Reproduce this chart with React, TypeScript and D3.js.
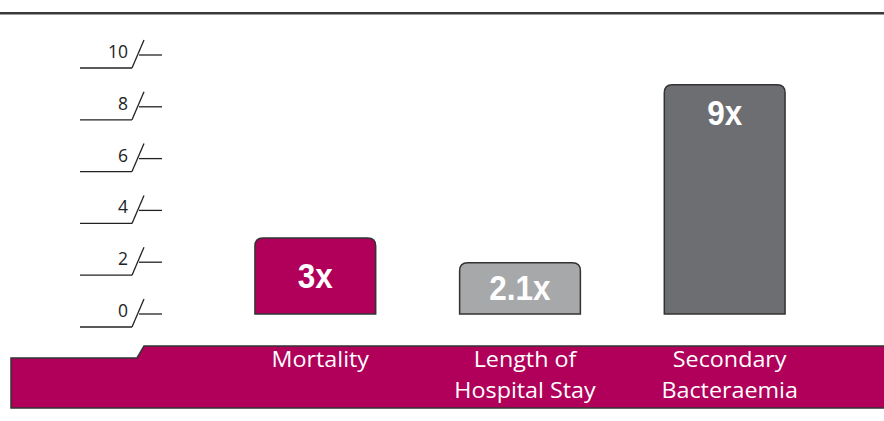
import React from "react";
import * as d3 from "d3";

const categories: string[][] = [["Mortality"], ["Length of", "Hospital Stay"], ["Secondary", "Bacteraemia"]];
const values: number[] = [2.93, 1.98, 8.85];
const valueLabels: string[] = ["3x", "2.1x", "9x"];
const barColors: string[] = ["#B0005A", "#A7A8AA", "#6D6E71"];
const tickValues: number[] = [0, 2, 4, 6, 8, 10];

const W = 884;
const H = 421;

function roundTopRect(x: number, y: number, w: number, h: number, r: number) {
  return `M${x},${y + h} L${x},${y + r} Q${x},${y} ${x + r},${y} L${x + w - r},${y} Q${x + w},${y} ${x + w},${y + r} L${x + w},${y + h} Z`;
}

export default function App() {
  const y = d3.scaleLinear().domain([0, 10]).range([314, 55]);
  const x = d3.scaleBand<number>().domain([0, 1, 2]).range([214, 826]).paddingInner(0.41).paddingOuter(0.2);
  const bw = x.bandwidth();
  const bandPts: [number, number][] = [
    [11, 358], [137, 358], [144, 346], [892, 346], [892, 408], [11, 408],
  ];
  const line = d3.line();
  return (
    <svg width={W} height={H} style={{ position: "absolute", left: 0, top: 0, background: "#fff" }}>
      <line x1={0} x2={W} y1={13} y2={13} stroke="#3a3a3a" strokeWidth={2} />
      <line x1={0} x2={W} y1={14.5} y2={14.5} stroke="#9a9a9a" strokeWidth={1} />
      {tickValues.map((t) => {
        const ty = y(t);
        return (
          <g key={t} stroke="#222" strokeWidth={1.3} fill="none">
            <line x1={80} x2={132} y1={ty + 13} y2={ty + 13} />
            <line x1={132} x2={144} y1={ty + 13} y2={ty - 15} />
            <line x1={139} x2={162} y1={ty} y2={ty} />
            <text x={128} y={ty + 3} textAnchor="end" stroke="none" fill="#222"
              style={{ fontFamily: "'Open Sans', sans-serif", fontSize: 17.5 }}>{t}</text>
          </g>
        );
      })}
      {values.map((v, i) => {
        const bx = x(i)!;
        const top = y(v);
        const h = y(0) - top;
        const ly = h < 100 ? top + h / 2 + 12 : top + 40;
        const cx = bx + bw / 2;
        return (
          <g key={i}>
            <path d={roundTopRect(bx, top, bw, h, 8)} fill={barColors[i]} stroke="#333" strokeWidth={1.5} />
            <text x={cx} y={ly} textAnchor="middle" fill="#fff"
              transform={`translate(${cx},0) scale(0.9,1) translate(${-cx},0)`}
              style={{ fontFamily: "'Liberation Sans Narrow', 'Arial Narrow', 'Liberation Sans', sans-serif", fontWeight: 700, fontSize: 35 }}>
              {valueLabels[i]}
            </text>
          </g>
        );
      })}
      <path d={line(bandPts)! + "Z"} fill="#B0005A" stroke="#333" strokeWidth={1.5} />
      {categories.map((lines, i) => {
        const cx = x(i)! + bw / 2 + 5;
        return (
          <text key={i} x={cx} y={367} textAnchor="middle" fill="#fff"
            transform={`translate(${cx},0) scale(1.11,1) translate(${-cx},0)`}
            style={{ fontFamily: "'Open Sans', sans-serif", fontSize: 21 }}>
            {lines.map((l, j) => (
              <tspan key={j} x={cx} dy={j === 0 ? 0 : 31}>{l}</tspan>
            ))}
          </text>
        );
      })}
    </svg>
  );
}
